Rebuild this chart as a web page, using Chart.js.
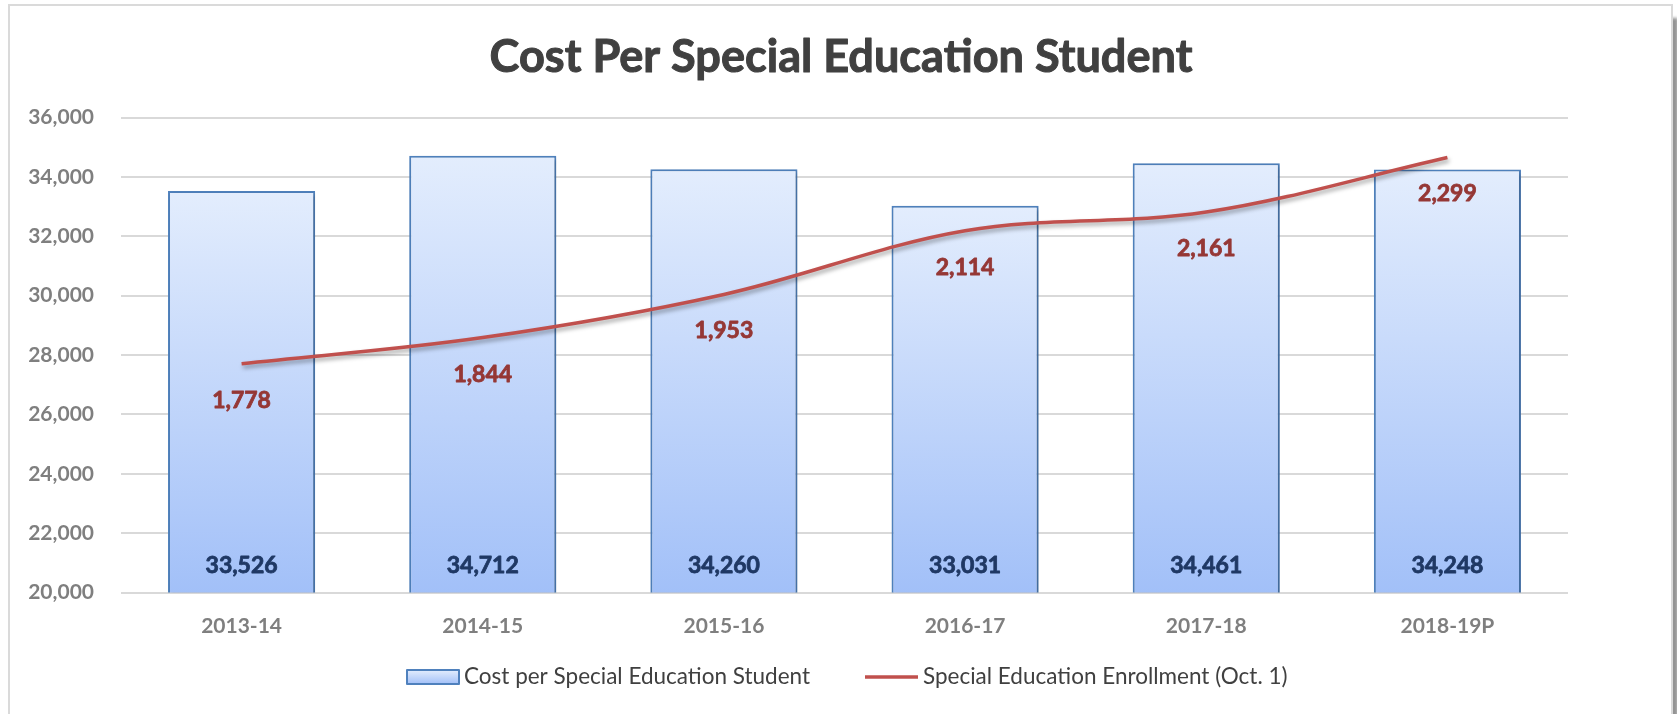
<!DOCTYPE html>
<html>
<head>
<meta charset="utf-8">
<title>Cost Per Special Education Student</title>
<script src="https://cdn.jsdelivr.net/npm/chart.js@4/dist/chart.umd.min.js"></script>
<style>
  html, body { margin: 0; padding: 0; background: #fff; overflow: hidden; }
  #frame {
    position: absolute; left: 8px; top: 4px; width: 1665px; height: 760px;
    border: 2px solid #dadada; box-sizing: border-box; background: #fff;
    box-shadow: 5px 14px 3px rgba(0,0,0,0.42);
  }
  #wrap { position: absolute; left: 0; top: 0; width: 1677px; height: 714px; }
</style>
</head>
<body>
<div id="frame"></div>
<div id="wrap"><canvas id="chart" width="1677" height="714"></canvas></div>
<script>
// School years on the category axis
const categories = ['2013-14', '2014-15', '2015-16', '2016-17', '2017-18', '2018-19P'];
// Cost per special education student (dollars), bars, left axis
const costPerStudent = [33526, 34712, 34260, 33031, 34461, 34248];
// Special education enrollment on Oct. 1, line, hidden right axis
const enrollment = [1778, 1844, 1953, 2114, 2161, 2299];
// Left axis tick values
const costTicks = [20000, 22000, 24000, 26000, 28000, 30000, 32000, 34000, 36000];
// Hidden right axis range for enrollment
const enrollmentRange = [1200, 2400];

const titleText = 'Cost Per Special Education Student';
const barLegendText = 'Cost per Special Education Student';
const lineLegendText = 'Special Education Enrollment (Oct. 1)';

const fmt = v => v.toLocaleString('en-US');
const FONT = 'Lato, "Open Sans", sans-serif';

function barGradient(ctx, top, bottom) {
  const g = ctx.createLinearGradient(0, top, 0, bottom);
  g.addColorStop(0, '#E3EDFD');
  g.addColorStop(1, '#A2C0F8');
  return g;
}

// Heavier text: fill plus a thin outline in the same colour
function heavyText(ctx, text, x, y, color, weight) {
  ctx.fillStyle = color;
  ctx.strokeStyle = color;
  ctx.lineWidth = weight;
  ctx.lineJoin = 'round';
  ctx.strokeText(text, x, y);
  ctx.fillText(text, x, y);
}

// Soft drop shadows under the bars and the line
const shadowPlugin = {
  id: 'shadows',
  beforeDatasetDraw(chart, args) {
    const ctx = chart.ctx;
    ctx.save();
    if (args.meta.type === 'line') {
      ctx.shadowColor = 'rgba(0,0,0,0.35)';
      ctx.shadowBlur = 4;
      ctx.shadowOffsetX = 1.5;
      ctx.shadowOffsetY = 3;
    } else {
      ctx.shadowColor = 'rgba(0,0,0,0.22)';
      ctx.shadowBlur = 4;
      ctx.shadowOffsetX = 2;
      ctx.shadowOffsetY = 2;
    }
  },
  afterDatasetDraw(chart) {
    chart.ctx.restore();
  }
};

// Title, value labels and legend
const annotatePlugin = {
  id: 'annotate',
  afterDatasetsDraw(chart) {
    const ctx = chart.ctx;
    const yScale = chart.scales.y;
    const bars = chart.getDatasetMeta(0).data;
    const pts = chart.getDatasetMeta(1).data;
    ctx.save();
    ctx.textAlign = 'center';
    ctx.textBaseline = 'middle';
    ctx.font = 'bold 23px ' + FONT;
    bars.forEach((bar, i) => {
      heavyText(ctx, fmt(costPerStudent[i]), bar.x, yScale.bottom - 26.5, '#1F3864', 0.8);
    });
    pts.forEach((pt, i) => {
      heavyText(ctx, fmt(enrollment[i]), pt.x, pt.y + 36.5, '#953735', 0.8);
    });
    ctx.restore();
  },
  afterDraw(chart) {
    const ctx = chart.ctx;
    ctx.save();
    // title, sized to span its box
    ctx.font = 'bold 42px ' + FONT;
    const w = ctx.measureText(titleText).width;
    const tSize = 42 * 703 / w;
    ctx.font = 'bold ' + tSize.toFixed(2) + 'px ' + FONT;
    ctx.textAlign = 'center';
    ctx.textBaseline = 'alphabetic';
    heavyText(ctx, titleText, 841, 72, '#404040', 1);

    // legend
    ctx.font = '20px ' + FONT;
    const s1 = 20 * 338 / ctx.measureText(barLegendText).width;
    const s2 = 20 * 373 / ctx.measureText(lineLegendText).width;
    const lSize = (s1 + s2) / 2;
    ctx.font = lSize.toFixed(2) + 'px ' + FONT;
    ctx.textAlign = 'left';
    ctx.textBaseline = 'middle';

    ctx.fillStyle = barGradient(ctx, 670, 684);
    ctx.fillRect(407, 670, 52, 14);
    ctx.strokeStyle = '#4F81BD';
    ctx.lineWidth = 2;
    ctx.strokeRect(407, 670, 52, 14);
    ctx.fillStyle = '#404040';
    ctx.fillText(barLegendText, 464, 677);

    ctx.strokeStyle = '#C0504D';
    ctx.lineWidth = 3.5;
    ctx.beginPath();
    ctx.moveTo(865, 677);
    ctx.lineTo(918, 677);
    ctx.stroke();
    ctx.fillText(lineLegendText, 923, 677);
    ctx.restore();
  }
};

new Chart(document.getElementById('chart'), {
  data: {
    labels: categories,
    datasets: [
      {
        type: 'bar',
        label: barLegendText,
        data: costPerStudent,
        yAxisID: 'y',
        order: 1,
        backgroundColor: (c) => {
          const chart = c.chart;
          if (!chart.chartArea || c.type !== 'data') return '#C3D7FA';
          const ys = chart.scales.y;
          return barGradient(chart.ctx, ys.getPixelForValue(c.raw), ys.getPixelForValue(ys.min));
        },
        borderColor: '#4F81BD',
        borderWidth: 2,
        borderSkipped: false,
        categoryPercentage: 1.0,
        barPercentage: 0.61
      },
      {
        type: 'line',
        label: lineLegendText,
        data: enrollment,
        yAxisID: 'y1',
        order: 0,
        borderColor: '#C0504D',
        borderWidth: 3.5,
        pointRadius: 0,
        tension: 0.35,
        fill: false
      }
    ]
  },
  options: {
    responsive: false,
    devicePixelRatio: 1,
    animation: false,
    layout: { padding: { left: 0, right: 109, top: 117.5, bottom: 61.5 } },
    plugins: {
      legend: { display: false },
      title: { display: false },
      tooltip: { enabled: false }
    },
    scales: {
      x: {
        grid: { display: false },
        border: { display: false },
        ticks: {
          color: '#7F7F7F',
          font: { family: FONT, size: 21, weight: 'bold' },
          padding: 13
        },
        afterFit(scale) { scale.height = 60; }
      },
      y: {
        position: 'left',
        min: costTicks[0],
        max: costTicks[costTicks.length - 1],
        afterBuildTicks(scale) { scale.ticks = costTicks.map(v => ({ value: v })); },
        grid: { color: '#D9D9D9', lineWidth: 2, drawTicks: false },
        border: { display: false },
        ticks: {
          color: '#7F7F7F',
          font: { family: FONT, size: 21, weight: 'bold' },
          padding: 27,
          callback: v => fmt(v)
        },
        afterFit(scale) { scale.width = 121; }
      },
      y1: {
        display: false,
        position: 'right',
        min: enrollmentRange[0],
        max: enrollmentRange[1],
        grid: { display: false }
      }
    }
  },
  plugins: [shadowPlugin, annotatePlugin]
});
</script>
</body>
</html>
